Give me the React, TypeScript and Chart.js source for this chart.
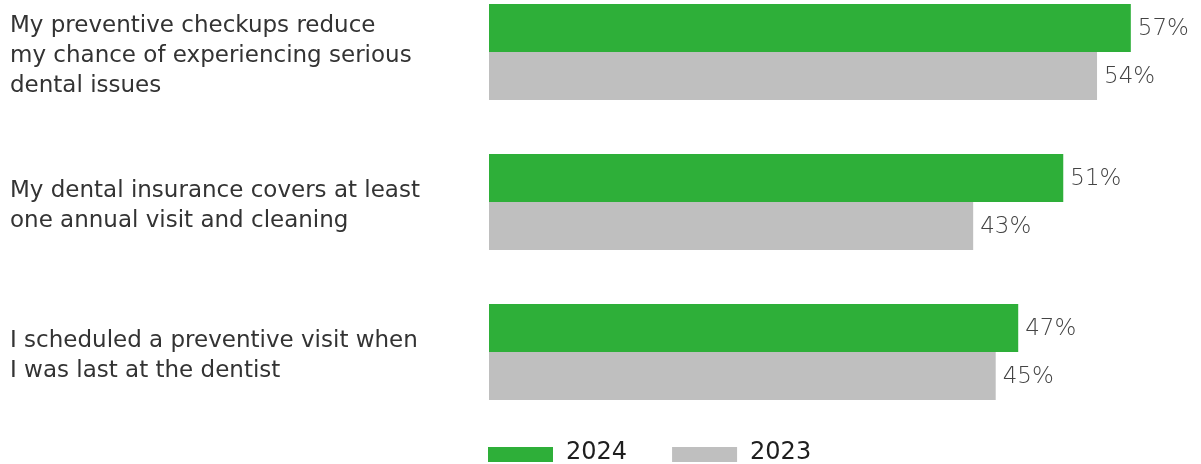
import React, { useEffect, useRef } from "react";
import { Chart, registerables } from "chart.js";

Chart.register(...registerables);

const categories: string[][] = [
  ["My preventive checkups reduce", "my chance of experiencing serious", "dental issues"],
  ["My dental insurance covers at least", "one annual visit and cleaning"],
  ["I scheduled a preventive visit when", "I was last at the dentist"],
];
const seriesNames = ["2024", "2023"];
const values2024 = [57, 51, 47];
const values2023 = [54, 43, 45];
const seriesColors = ["#2eaf39", "#bfbfbf"];

const FONT = "'DejaVu Sans', sans-serif";

const valueLabels = {
  id: "valueLabels",
  afterDatasetsDraw(chart: any) {
    const ctx = chart.ctx;
    ctx.save();
    ctx.font = `300 23px ${FONT}`;
    ctx.fillStyle = "#444444";
    ctx.textAlign = "left";
    ctx.textBaseline = "middle";
    chart.data.datasets.forEach((ds: any, di: number) => {
      const meta = chart.getDatasetMeta(di);
      meta.data.forEach((bar: any, i: number) => {
        ctx.fillText(`${ds.data[i]}%`, bar.x + 7, bar.y + 1);
      });
    });
    ctx.restore();
  },
};

const bottomLegend = {
  id: "bottomLegend",
  afterDraw(chart: any) {
    const ctx = chart.ctx;
    const area = chart.chartArea;
    ctx.save();
    ctx.font = `24px ${FONT}`;
    ctx.textBaseline = "middle";
    ctx.textAlign = "left";
    let x = area.left - 1;
    const y = area.bottom + 20;
    chart.data.datasets.forEach((ds: any) => {
      ctx.fillStyle = ds.backgroundColor;
      ctx.fillRect(x, y, 65, 15);
      ctx.fillStyle = "#1e1e1e";
      const tx = x + 65 + 13;
      ctx.fillText(ds.label, tx, y + 6);
      x = tx + ctx.measureText(ds.label).width + 45;
    });
    ctx.restore();
  },
};

export default function App() {
  const ref = useRef<HTMLCanvasElement>(null);
  useEffect(() => {
    if (!ref.current) return;
    const chart = new Chart(ref.current, {
      type: "bar",
      data: {
        labels: categories as any,
        datasets: [
          { label: seriesNames[0], data: values2024, backgroundColor: seriesColors[0] },
          { label: seriesNames[1], data: values2023, backgroundColor: seriesColors[1] },
        ],
      },
      options: {
        indexAxis: "y",
        responsive: false,
        animation: false,
        devicePixelRatio: 1,
        layout: { padding: { left: 10, right: 36.4, top: 0, bottom: 37 } },
        datasets: { bar: { categoryPercentage: 0.64, barPercentage: 1 } },
        plugins: { legend: { display: false }, tooltip: { enabled: false } },
        scales: {
          x: { min: 0, max: 60, display: false },
          y: {
            grid: { display: false },
            border: { display: false },
            afterFit: (scale: any) => {
              scale.width = 479;
              scale.paddingTop = 0;
              scale.paddingBottom = 0;
            },
            ticks: {
              crossAlign: "far",
              labelOffset: 4,
              color: "#333333",
              font: { family: FONT, size: 23, lineHeight: "30px" as any },
            },
          },
        },
      },
      plugins: [valueLabels, bottomLegend],
    });
    return () => chart.destroy();
  }, []);
  return (
    <div style={{ position: "absolute", left: 0, top: 0, width: 1201, height: 464, overflow: "hidden", background: "#fff" }}>
      <canvas ref={ref} width={1201} height={487} style={{ position: "absolute", left: 0, top: -23, width: 1201, height: 487 }} />
    </div>
  );
}
